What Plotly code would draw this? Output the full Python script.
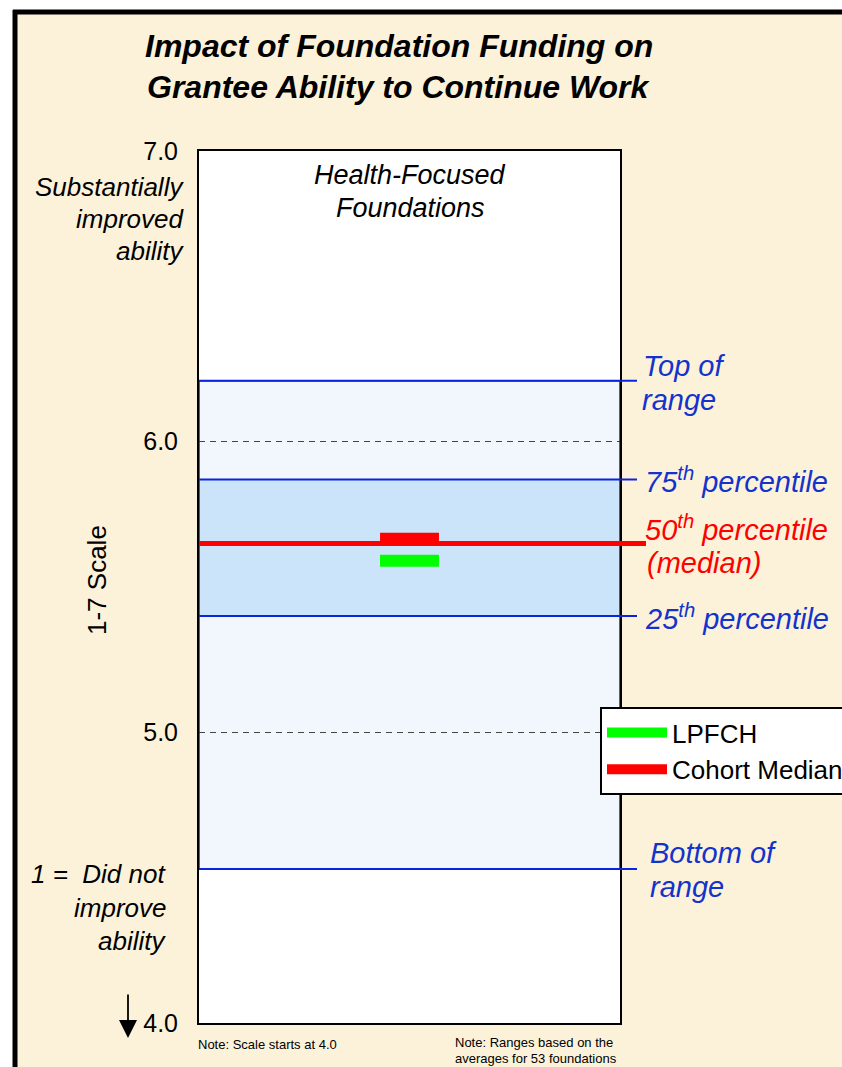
import plotly.graph_objects as go

# values (1-7 scale, axis shown from 4.0)
scale_ticks = [4.0, 5.0, 6.0, 7.0]
tick_text = ["4.0", "5.0", "6.0", "7.0"]
range_bottom = 4.53
range_top = 6.21
pct_25 = 5.40
pct_50 = 5.65
pct_75 = 5.87
series_names = ["LPFCH", "Cohort Median"]
series_values = [5.59, 5.666]
series_colors = ["#00FF00", "#FF0000"]

W, H = 842, 1067
L, R, T, B = 199, 222, 151, 44
FONT = "Liberation Sans, Arial, sans-serif"
BLUE = "#1432CC"
LINE_BLUE = "#0A24DC"
BEIGE = "#FCF2D9"


# pixel -> paper helpers for decoration / text placement
def px(x):
    return (x - L) / (W - L - R)


def py(y):
    return (H - B - y) / (H - T - B)


fig = go.Figure()

for name, val, col in zip(series_names, series_values, series_colors):
    fig.add_trace(go.Scatter(
        x=[0.43, 0.57], y=[val, val], mode="lines", name=name,
        line=dict(color=col, width=12), legendgroup=name, hoverinfo="skip",
    ))

shapes = []
# white page corner + black frame
shapes.append(dict(type="rect", xref="paper", yref="paper", x0=px(0), x1=px(W), y0=py(0), y1=py(12),
                   fillcolor="white", line_width=0, layer="below"))
shapes.append(dict(type="rect", xref="paper", yref="paper", x0=px(0), x1=px(14), y0=py(0), y1=py(H),
                   fillcolor="white", line_width=0, layer="below"))
shapes.append(dict(type="line", xref="paper", yref="paper", x0=px(13), x1=px(W), y0=py(12), y1=py(12),
                   line=dict(color="black", width=5)))
shapes.append(dict(type="line", xref="paper", yref="paper", x0=px(15), x1=px(15), y0=py(10), y1=py(H),
                   line=dict(color="black", width=5)))

# range bands
shapes.append(dict(type="rect", xref="x", yref="y", x0=0, x1=1, y0=range_bottom, y1=range_top,
                   fillcolor="#F2F7FE", line_width=0, layer="below"))
shapes.append(dict(type="rect", xref="x", yref="y", x0=0, x1=1, y0=pct_25, y1=pct_75,
                   fillcolor="#CBE4FA", line_width=0, layer="below"))
shapes.append(dict(type="rect", xref="x", yref="y", x0=0, x1=1, y0=range_bottom, y1=range_top,
                   fillcolor="rgba(0,0,0,0)", line=dict(color=LINE_BLUE, width=1.5)))
for v in [range_bottom, pct_25, pct_75, range_top]:
    shapes.append(dict(type="line", xref="paper", yref="y", x0=0, x1=px(637), y0=v, y1=v,
                       line=dict(color=LINE_BLUE, width=2)))
shapes.append(dict(type="line", xref="paper", yref="y", x0=0, x1=px(646), y0=pct_50, y1=pct_50,
                   line=dict(color="#FF0000", width=5)))

ann = []


def txt(text, x, y, size, color="black", xanchor="left", italic=True, bold=False, angle=0):
    ann.append(dict(
        text=text, x=px(x), y=py(y), xref="paper", yref="paper", showarrow=False,
        xanchor=xanchor, yanchor="middle", textangle=angle,
        font=dict(family=FONT, size=size, color=color,
                  style="italic" if italic else "normal",
                  weight="bold" if bold else "normal"),
    ))


txt("Impact of Foundation Funding on", 399, 46, 32, xanchor="center", bold=True)
txt("Grantee Ability to Continue Work", 399, 87, 32, xanchor="center", bold=True)
txt("Health-Focused", 410, 175, 27, xanchor="center")
txt("Foundations", 410, 208, 27, xanchor="center")

txt("Substantially", 186, 187, 26, xanchor="right")
txt("improved", 186, 219, 26, xanchor="right")
txt("ability", 186, 251, 26, xanchor="right")
txt("1 =  Did not", 168, 874, 26, xanchor="right")
txt("improve", 168, 908, 26, xanchor="right")
txt("ability", 168, 941, 26, xanchor="right")
txt("1-7 Scale", 97, 580, 26, xanchor="center", italic=False, angle=-90)

txt("Top of", 641, 366, 29, BLUE)
txt("range", 640, 400, 29, BLUE)
txt("75<sup>th</sup> percentile", 643, 480, 29, BLUE)
txt("50<sup>th</sup> percentile", 643, 528, 29, "#FF0000")
txt("(median)", 645, 563, 29, "#FF0000")
txt("25<sup>th</sup> percentile", 643, 617, 29, BLUE)
txt("Bottom of", 648, 853, 29, BLUE)
txt("range", 648, 887, 29, BLUE)

txt("Note: Scale starts at 4.0", 196, 1044, 13, italic=False)
txt("Note: Ranges based on the", 453, 1042, 13, italic=False)
txt("averages for 53 foundations", 453, 1058, 13, italic=False)

# down arrow next to the 4.0 tick
ann.append(dict(x=px(128), y=py(1038), xref="paper", yref="paper", text="", showarrow=True,
                ax=0, ay=-45, arrowhead=2, arrowsize=2, arrowwidth=1.8, arrowcolor="black"))

fig.update_layout(
    width=W, height=H, autosize=False,
    margin=dict(l=L, r=R, t=T, b=B, autoexpand=False),
    paper_bgcolor=BEIGE, plot_bgcolor="white",
    font=dict(family=FONT, color="black"),
    shapes=shapes, annotations=ann,
    showlegend=True,
    legend=dict(
        x=px(600), y=py(707), xanchor="left", yanchor="top",
        bgcolor="white", bordercolor="black", borderwidth=2,
        font=dict(family=FONT, size=26, color="black"),
        itemwidth=60, tracegroupgap=0, traceorder="grouped",
        entrywidth=260, entrywidthmode="pixels",
    ),
)
fig.update_xaxes(range=[0, 1], showticklabels=False, showgrid=False, zeroline=False,
                 showline=True, mirror=True, linecolor="black", linewidth=2, fixedrange=True)
fig.update_yaxes(range=[4, 7], tickvals=scale_ticks, ticktext=tick_text, ticks="",
                 tickfont=dict(family=FONT, size=25, color="black"), ticklabelstandoff=14,
                 showgrid=True, gridcolor="#444444", gridwidth=1, griddash="6px,5px",
                 zeroline=False, showline=True, mirror=True, linecolor="black", linewidth=2,
                 fixedrange=True)

fig.write_html("out.html", config={"displayModeBar": False},
               post_script="document.body.style.margin='0';document.body.style.overflow='hidden';")
